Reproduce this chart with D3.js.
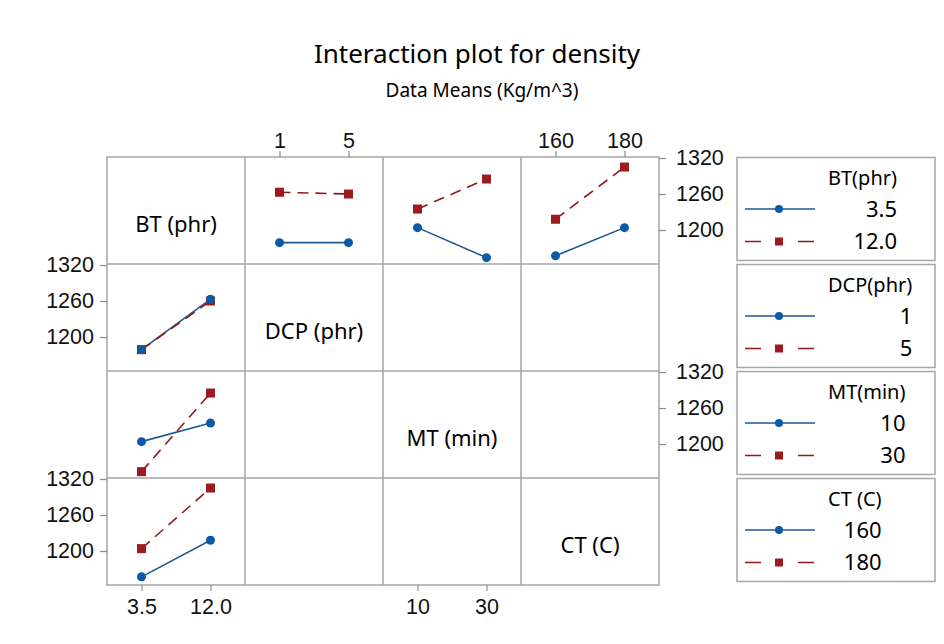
<!DOCTYPE html>
<html>
<head>
<meta charset="utf-8">
<script src="https://cdn.jsdelivr.net/npm/d3@7"></script>
<style>
  body { margin: 0; background: #fff; }
  svg { display: block; font-family: "Noto Sans", "Open Sans", sans-serif; }
  .axis path.domain { display: none; }
  .axis line { stroke: #8c8c8c; stroke-width: 1.2; }
  .axis text { fill: #111; font-size: 21.5px; }
</style>
</head>
<body>
<svg width="944" height="644"></svg>
<script>
// factors, in matrix order
var factors = ["BT (phr)", "DCP (phr)", "MT (min)", "CT (C)"];
var legendTitles = ["BT(phr)", "DCP(phr)", "MT(min)", "CT (C)"];
var levels = [["3.5", "12.0"], ["1", "5"], ["10", "30"], ["160", "180"]];

// density means, one row per BT level (3.5, 12.0), across the other factor's levels
var btByDcp = [[1179, 1179], [1263, 1260]];
var btByMt  = [[1204, 1154], [1235, 1285]];
var btByCt  = [[1157, 1204], [1218, 1305]];

var yTicks = [1200, 1260, 1320];

var svg = d3.select("svg");

var gLeft = 107, gTop = 157, colW = 138, rowH = 107, n = 4;
var colors = ["#0b5aa8", "#9c1b1f"];
var lineColors = ["#1d5a94", "#8e1a1e"];

var y = d3.scaleLinear().domain([1143.4, 1321.7]);

function xScale(col) {
    return d3.scalePoint().domain(levels[col])
        .range([gLeft + col * colW, gLeft + (col + 1) * colW]).padding(0.5);
}
function yScale(row) {
    return y.copy().range([gTop + (row + 1) * rowH, gTop + row * rowH]);
}

// title
svg.append("text").attr("x", 477).attr("y", 63).attr("text-anchor", "middle")
    .style("font-size", "26px").text("Interaction plot for density");
svg.append("text").attr("x", 482).attr("y", 97).attr("text-anchor", "middle")
    .style("font-size", "19px").text("Data Means (Kg/m^3)");

// grid
var grid = svg.append("g").attr("stroke", "#a6a6a6").attr("stroke-width", 1.5).attr("fill", "none");
grid.append("rect").attr("x", gLeft).attr("y", gTop).attr("width", colW * n).attr("height", rowH * n);
d3.range(1, n).forEach(function(i) {
    grid.append("line").attr("x1", gLeft + i * colW).attr("x2", gLeft + i * colW)
        .attr("y1", gTop).attr("y2", gTop + n * rowH);
    grid.append("line").attr("y1", gTop + i * rowH).attr("y2", gTop + i * rowH)
        .attr("x1", gLeft).attr("x2", gLeft + n * colW);
});

// diagonal labels
factors.forEach(function(f, i) {
    svg.append("text").attr("x", gLeft + i * colW + colW / 2).attr("y", gTop + i * rowH + rowH / 2 + 21)
        .attr("text-anchor", "middle").style("font-size", "22px").text(f);
});

// axes
d3.range(n).forEach(function(i) {
    if (i % 2 === 0) {
        svg.append("g").attr("class", "axis").attr("transform", "translate(0," + (gTop + n * rowH) + ")")
            .call(d3.axisBottom(xScale(i)).tickSize(6).tickPadding(8));
        svg.append("g").attr("class", "axis").attr("transform", "translate(" + (gLeft + n * colW) + ",0)")
            .call(d3.axisRight(yScale(i)).tickValues(yTicks).tickFormat(d3.format("d")).tickSize(7).tickPadding(10));
    } else {
        svg.append("g").attr("class", "axis").attr("transform", "translate(0," + gTop + ")")
            .call(d3.axisTop(xScale(i)).tickSize(6).tickPadding(3));
        svg.append("g").attr("class", "axis").attr("transform", "translate(" + gLeft + ",0)")
            .call(d3.axisLeft(yScale(i)).tickValues(yTicks).tickFormat(d3.format("d")).tickSize(7).tickPadding(6));
    }
});

// panels: top row traces BT, first column traces the other factor against BT
var byFactor = [null, btByDcp, btByMt, btByCt];
var panels = [];
for (var k = 1; k < n; k++) {
    var m = byFactor[k];
    panels.push({ row: 0, col: k, series: m });
    panels.push({ row: k, col: 0, series: [[m[0][0], m[1][0]], [m[0][1], m[1][1]]] });
}

panels.forEach(function(p) {
    var x = xScale(p.col), ys = yScale(p.row);
    var g = svg.append("g");
    p.series.forEach(function(vals, s) {
        var pts = vals.map(function(v, j) { return [x(levels[p.col][j]), ys(v)]; });
        g.append("path").attr("d", d3.line()(pts)).attr("fill", "none")
            .attr("stroke", lineColors[s]).attr("stroke-width", 1.6)
            .attr("stroke-dasharray", s === 1 ? "11,7" : null);
    });
    p.series.slice().reverse().forEach(function(vals, r) {
        var s = p.series.length - 1 - r;
        vals.forEach(function(v, j) {
            var cx = x(levels[p.col][j]), cy = ys(v);
            if (s === 0) g.append("circle").attr("cx", cx).attr("cy", cy).attr("r", 4.5).attr("fill", colors[0]);
            else g.append("rect").attr("x", cx - 4.5).attr("y", cy - 4.5).attr("width", 9).attr("height", 9).attr("fill", colors[1]);
        });
    });
});

// legends
var lx = 737, lw = 198;
legendTitles.forEach(function(t, i) {
    var by = gTop + i * rowH + 0.5;
    var g = svg.append("g");
    g.append("rect").attr("x", lx).attr("y", by).attr("width", lw).attr("height", 103)
        .attr("fill", "none").attr("stroke", "#a6a6a6").attr("stroke-width", 1.5);
    var title = g.append("text").attr("x", 828).attr("y", by + 27).style("font-size", "20px").text(t);
    var right = 828 + title.node().getComputedTextLength();
    levels[i].forEach(function(lv, s) {
        var ly = by + 51.5 + s * 32.5;
        g.append("line").attr("x1", 745).attr("x2", 815).attr("y1", ly).attr("y2", ly)
            .attr("stroke", lineColors[s]).attr("stroke-width", 1.6)
            .attr("stroke-dasharray", s === 1 ? "16,37" : null);
        if (s === 0) g.append("circle").attr("cx", 779).attr("cy", ly).attr("r", 4).attr("fill", colors[0]);
        else g.append("rect").attr("x", 775).attr("y", ly - 4).attr("width", 8).attr("height", 8).attr("fill", colors[1]);
        g.append("text").attr("x", right).attr("y", ly).attr("dy", "0.35em").attr("text-anchor", "end")
            .style("font-size", "22px").text(lv);
    });
});
</script>
</body>
</html>
